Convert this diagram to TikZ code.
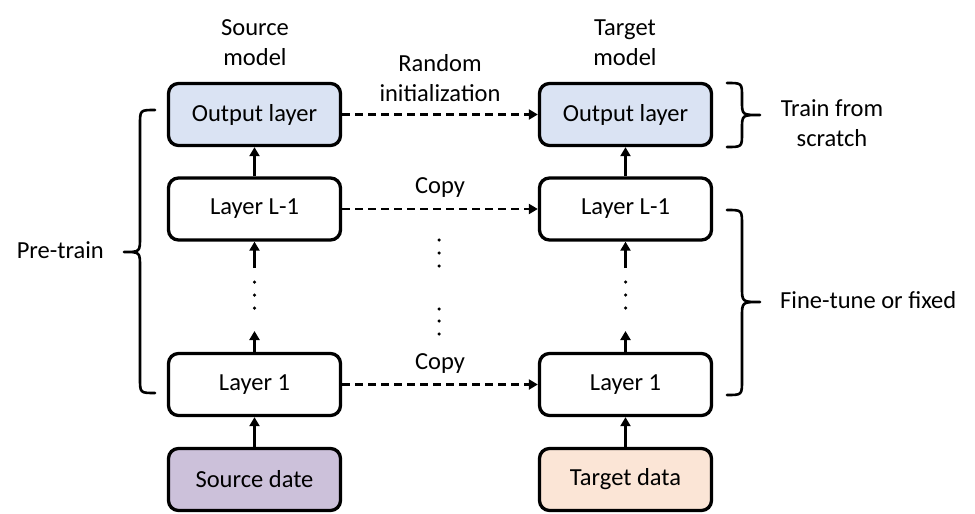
\documentclass[tikz,border=0pt]{standalone}
\usepackage{fontspec}
\setmainfont{Carlito}
\usetikzlibrary{arrows.meta}
\definecolor{outblue}{HTML}{DAE3F3}
\definecolor{srcpurple}{HTML}{CCC1DA}
\definecolor{tgtorange}{HTML}{FBE5D6}
\tikzset{
  layerbox/.style={draw=black, line width=3.3pt, rounded corners=10pt, minimum width=172pt, minimum height=62pt, inner sep=0pt, font=\fontsize{24.5}{30}\selectfont},
  lbl/.style={align=center, inner sep=0pt, font=\fontsize{24.5}{30}\selectfont},
  uparr/.style={line width=2.2pt, -{Triangle[length=9pt,width=10pt]}},
  dasharr/.style={line width=2.2pt, dash pattern=on 8pt off 5pt, -{Triangle[length=9pt,width=10pt]}},
  bracepath/.style={line width=2.6pt, line cap=round, line join=round},
  vdot/.style={circle, fill=black, inner sep=0pt, minimum size=3.5pt}
}
\begin{document}
\begin{tikzpicture}[x=1pt,y=-1pt]
\useasboundingbox (0,0) rectangle (975,514);
% boxes
\node[layerbox, fill=outblue] (sOut) at (254.5,114.5) {Output layer};
\node[layerbox, fill=white] (sL) at (254.5,209) {Layer L-1};
\node[layerbox, fill=white] (s1) at (254.5,384.5) {Layer 1};
\node[layerbox, fill=srcpurple] (sData) at (254.5,479.5) {Source date};
\node[layerbox, fill=outblue] (tOut) at (625.5,114.5) {Output layer};
\node[layerbox, fill=white] (tL) at (625.5,209) {Layer L-1};
\node[layerbox, fill=white] (t1) at (625.5,384.5) {Layer 1};
\node[layerbox, fill=tgtorange] (tData) at (625.5,479.5) {Target data};
% labels
\node[lbl] (lSrc) at (255,43) {Source\\model};
\node[lbl] (lTgt) at (625,43) {Target\\model};
\node[lbl] (lRand) at (440,78) {Random\\initialization};
\node[lbl] (lCopy1) at (440,188) {Copy};
\node[lbl] (lCopy2) at (440,364) {Copy};
\node[lbl] (lTrain) at (832,123) {Train from\\scratch};
\node[lbl, anchor=west] (lFine) at (780,300) {Fine-tune or fixed};
\node[lbl, anchor=east] (lPre) at (104,250) {Pre-train};
% coordinates for free arrow ends
\coordinate (sA) at (254.5,268);
\coordinate (sB) at (254.5,331);
\coordinate (tA) at (625.5,268);
\coordinate (tB) at (625.5,331);
% vertical arrows
\draw[uparr] (sL.north) -- (sOut.south);
\draw[uparr] (sA) -- (sL.south);
\draw[uparr] (s1.north) -- (sB);
\draw[uparr] (sData.north) -- (s1.south);
\draw[uparr] (tL.north) -- (tOut.south);
\draw[uparr] (tA) -- (tL.south);
\draw[uparr] (t1.north) -- (tB);
\draw[uparr] (tData.north) -- (t1.south);
% dots
\foreach \yy [count=\i] in {282,295,308}{
  \node[vdot] (sd\i) at (254.5,\yy) {};
  \node[vdot] (td\i) at (625.5,\yy) {};
}
\foreach \yy [count=\i] in {240,253,266,309,321,334}{
  \node[vdot] (md\i) at (439,\yy) {};
}
% dashed arrows
\draw[dasharr] (sOut.east) -- (tOut.west);
\draw[dasharr] (sL.east) -- (tL.west);
\draw[dasharr] (s1.east) -- (t1.west);
% braces
\draw[bracepath] (727,83) .. controls (742,83) .. (742,97) -- (742,101) .. controls (742,115) .. (760,115) .. controls (742,115) .. (742,129) -- (742,133) .. controls (742,147) .. (727,147);
\draw[bracepath] (727,210) .. controls (742,210) .. (742,225) -- (742,287) .. controls (742,302) .. (760,302) .. controls (742,302) .. (742,317) -- (742,380) .. controls (742,395) .. (727,395);
\draw[bracepath] (155,110) .. controls (140,110) .. (140,125) -- (140,237) .. controls (140,252) .. (124,252) .. controls (140,252) .. (140,267) -- (140,378) .. controls (140,393) .. (155,393);
\end{tikzpicture}
\end{document}
